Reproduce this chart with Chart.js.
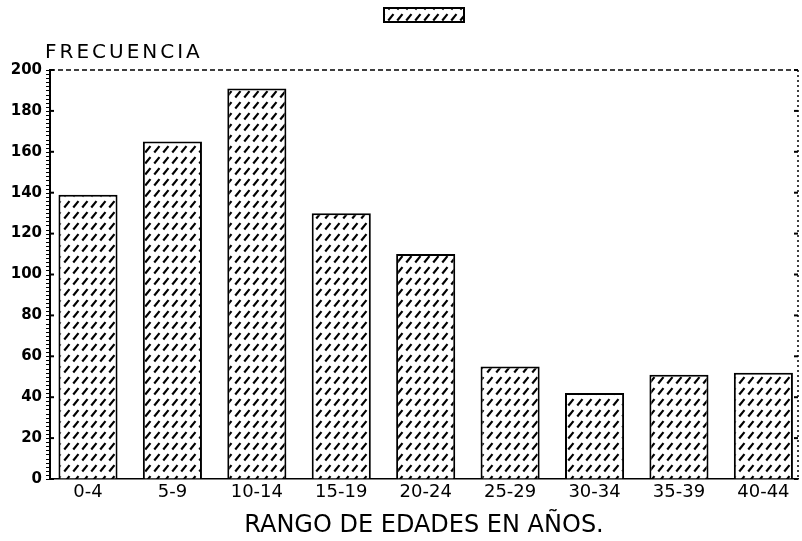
<!DOCTYPE html>
<html><head><meta charset="utf-8">
<script src="https://cdn.jsdelivr.net/npm/chart.js@4/dist/chart.umd.min.js"></script>
<style>html,body{margin:0;padding:0;background:#fff}#wrap{width:802px;height:541px}</style>
</head><body><div id="wrap"><canvas id="c" width="802" height="541"></canvas></div>
<script>
// ---- data ----
const categories = ['0-4','5-9','10-14','15-19','20-24','25-29','30-34','35-39','40-44'];
const frecuencia = [139, 165, 191, 130, 110, 55, 42, 51, 52];
const yTickStep = 20;
const yMax = 200;
const yTitle = 'FRECUENCIA';
const xTitle = 'RANGO DE EDADES EN AÑOS.';

// ---- hatch pattern ----
function makeHatch() {
  const W = 9, H = 11;
  const t = document.createElement('canvas');
  t.width = W; t.height = H;
  const g = t.getContext('2d');
  g.fillStyle = '#fff'; g.fillRect(0, 0, W, H);
  g.strokeStyle = '#000'; g.lineWidth = 2.2; g.lineCap = 'butt';
  const t0 = 0.14, t1 = 0.72;
  g.beginPath(); g.moveTo(W * t0, H * (1 - t0)); g.lineTo(W * t1, H * (1 - t1)); g.stroke();
  return g.createPattern(t, 'repeat');
}
const hatch = makeHatch();

const decor = {
  id: 'decor',
  afterDraw(chart) {
    const ctx = chart.ctx, a = chart.chartArea, y = chart.scales.y;
    ctx.save();
    ctx.strokeStyle = '#000'; ctx.fillStyle = '#000';
    // top border (dashed)
    ctx.lineWidth = 1.5; ctx.setLineDash([5, 3]);
    ctx.beginPath(); ctx.moveTo(a.left, a.top); ctx.lineTo(a.right, a.top); ctx.stroke();
    // right border (dotted)
    ctx.lineWidth = 1.5; ctx.setLineDash([2, 3]);
    ctx.beginPath(); ctx.moveTo(a.right, a.top); ctx.lineTo(a.right, a.bottom); ctx.stroke();
    ctx.setLineDash([]);
    // minor ticks on left axis
    ctx.lineWidth = 1;
    for (let v = 0; v <= yMax; v += 2) {
      const p = Math.round(y.getPixelForValue(v)) + 0.5;
      ctx.beginPath(); ctx.moveTo(a.left - 4, p); ctx.lineTo(a.left, p); ctx.stroke();
    }
    // major ticks inward, left and right
    ctx.lineWidth = 2;
    for (let v = 0; v <= yMax; v += yTickStep) {
      const p = y.getPixelForValue(v);
      ctx.beginPath(); ctx.moveTo(a.left, p); ctx.lineTo(a.left + 4, p); ctx.stroke();
      ctx.beginPath(); ctx.moveTo(a.right, p); ctx.lineTo(a.right - 4, p); ctx.stroke();
    }
    // y title
    ctx.font = '20px "DejaVu Sans"';
    ctx.letterSpacing = '3px';
    ctx.textAlign = 'left'; ctx.textBaseline = 'alphabetic';
    ctx.fillText(yTitle, a.left - 5, a.top - 12);
    ctx.letterSpacing = '0px';
    // legend swatch
    const cx = (a.left + a.right) / 2, w = 80, h = 14;
    ctx.fillStyle = hatch;
    ctx.fillRect(cx - w / 2, 8, w, h);
    ctx.lineWidth = 2; ctx.strokeStyle = '#000';
    ctx.strokeRect(cx - w / 2, 8, w, h);
    ctx.restore();
  }
};

new Chart(document.getElementById('c'), {
  type: 'bar',
  data: {
    datasets: [{
      label: yTitle,
      data: frecuencia.map((v, i) => ({ x: i, y: v })),
      backgroundColor: hatch,
      borderColor: '#000',
      borderWidth: 2,
      borderSkipped: 'bottom',
      categoryPercentage: 1,
      barPercentage: 0.7
    }]
  },
  options: {
    responsive: false,
    animation: false,
    layout: { padding: { top: 70, right: 4, left: 0, bottom: 0 } },
    plugins: { legend: { display: false }, tooltip: { enabled: false }, title: { display: false } },
    scales: {
      x: {
        type: 'linear',
        offset: false,
        min: -0.45, max: 8.41,
        afterBuildTicks: s => { s.ticks = categories.map((_, i) => ({ value: i })); },
        afterFit: s => { s.height = 62; },
        grid: { offset: false, drawOnChartArea: false, drawTicks: false },
        border: { display: true, color: '#000', width: 1.5, dash: [6, 2] },
        ticks: {
          autoSkip: false, maxRotation: 0, padding: 3, color: '#000',
          font: { family: 'DejaVu Sans', size: 18 },
          callback: v => categories[v]
        },
        title: {
          display: true, text: xTitle, color: '#000',
          font: { family: 'DejaVu Sans', size: 24 },
          padding: { top: 0, bottom: 1 }
        }
      },
      y: {
        min: 0, max: yMax,
        afterFit: s => { s.width = 50; },
        grid: { drawOnChartArea: false, drawTicks: false },
        border: { display: true, color: '#000', width: 2 },
        ticks: {
          stepSize: yTickStep, padding: 8, color: '#000',
          font: { family: 'DejaVu Sans', size: 15, weight: 'bold' }
        }
      }
    }
  },
  plugins: [decor]
});
</script>
</body></html>
